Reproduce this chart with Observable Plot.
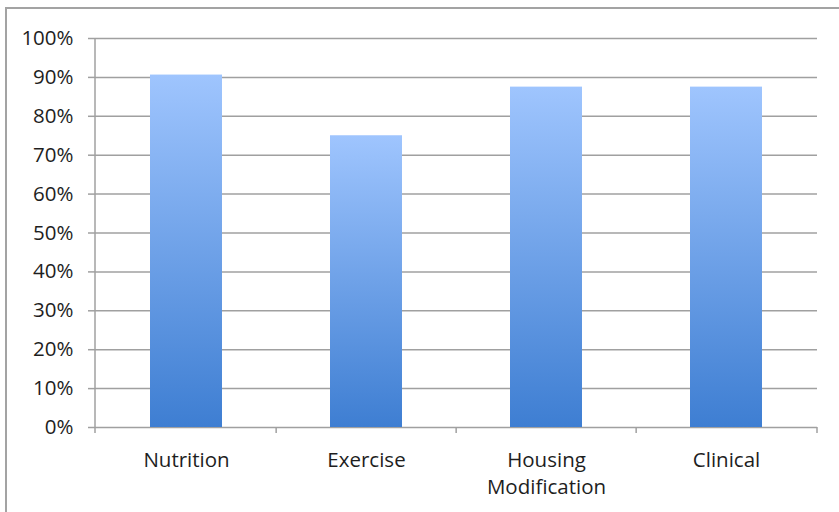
<!DOCTYPE html>
<html>
<head>
<meta charset="utf-8">
<script src="https://cdn.jsdelivr.net/npm/d3@7"></script>
<script src="https://cdn.jsdelivr.net/npm/@observablehq/plot@0.6"></script>
<style>
  html, body { margin: 0; padding: 0; background: #fff; }
  #wrap { position: relative; width: 839px; height: 512px; overflow: hidden; }
  #border { position: absolute; left: 5px; top: 7px; width: 900px; height: 600px;
            border-left: 2px solid #a3a3a3; border-top: 2px solid #a3a3a3; box-sizing: border-box; }
  #chart { position: absolute; left: 0; top: 0; }
</style>
</head>
<body>
<div id="wrap"><div id="border"></div><div id="chart"></div></div>
<script>
// Share of participants by program area
const categories = ["Nutrition", "Exercise", "Housing\nModification", "Clinical"];
const shares = [0.906, 0.75, 0.875, 0.875];
const yTicks = [0, 0.1, 0.2, 0.3, 0.4, 0.5, 0.6, 0.7, 0.8, 0.9, 1.0];

const data = categories.map((c, i) => ({category: c, share: shares[i]}));

const W = 839, H = 512;
const margin = {left: 95, right: 22, top: 38, bottom: 85};
const padInner = 0.6, padOuter = 0.3;
const gridColor = "#a0a0a0";
const labelSize = 20.5;

// Axis line on the left and category separator ticks along the baseline
function axisFrame(index, scales, values, dims) {
  const x0 = dims.marginLeft, x1 = dims.width - dims.marginRight;
  const y0 = scales.y(0), y1 = scales.y(1);
  const n = categories.length;
  const step = (x1 - x0) / (n - padInner + 2 * padOuter);
  const g = d3.create("svg:g").attr("stroke", gridColor).attr("stroke-width", 1.5);
  g.append("line").attr("x1", x0).attr("x2", x0).attr("y1", y0 + 1).attr("y2", y1);
  const edges = [x0];
  categories.forEach(c => edges.push(scales.x(c) + scales.x.bandwidth() + step * padInner / 2));
  edges[edges.length - 1] = x1;
  edges.forEach(x => g.append("line").attr("x1", x).attr("x2", x).attr("y1", y0).attr("y2", y0 + 6));
  return g.node();
}

const chart = Plot.plot({
  width: W,
  height: H,
  marginLeft: margin.left,
  marginRight: margin.right,
  marginTop: margin.top,
  marginBottom: margin.bottom,
  style: {fontFamily: "'Open Sans', sans-serif", fontSize: labelSize + "px", color: "#1e1e1e", background: "transparent"},
  x: {domain: categories, paddingInner: padInner, paddingOuter: padOuter, align: 0.5},
  y: {domain: [0, 1]},
  marks: [
    Plot.ruleY(yTicks, {stroke: gridColor, strokeWidth: 1.5}),
    Plot.barY(data, {x: "category", y: "share", fill: "url(#barGrad)", style: "filter: drop-shadow(0 0 1.5px rgba(0,0,0,0.28))"}),
    axisFrame,
    Plot.axisY({ticks: yTicks, tickFormat: d3.format(".0%"), tickSize: 7, tickPadding: 15, stroke: gridColor, strokeWidth: 1.5, label: null, fill: "#1e1e1e", fontSize: labelSize}),
    Plot.axisX({tickSize: 0, tickPadding: 20, label: null, lineHeight: 1.34, fill: "#1e1e1e", fontSize: labelSize})
  ]
});

// Vertical gradient applied to each bar
const defs = d3.select(chart).insert("defs", ":first-child");
const grad = defs.append("linearGradient").attr("id", "barGrad")
  .attr("x1", 0).attr("y1", 0).attr("x2", 0).attr("y2", 1);
grad.append("stop").attr("offset", "0%").attr("stop-color", "#9fc5fe");
grad.append("stop").attr("offset", "100%").attr("stop-color", "#3e7ed2");

document.getElementById("chart").appendChild(chart);
</script>
</body>
</html>
